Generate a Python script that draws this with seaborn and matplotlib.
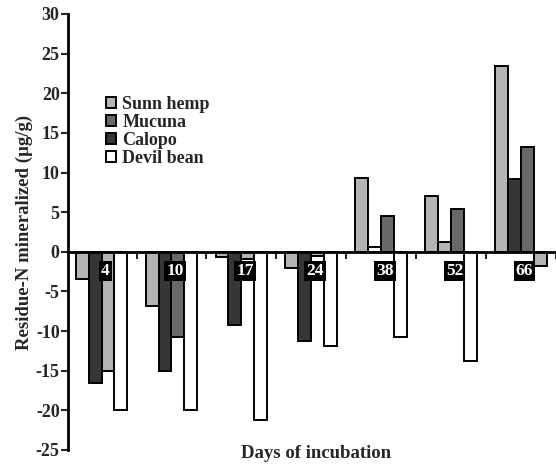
import matplotlib
matplotlib.use("Agg")
import matplotlib.pyplot as plt
import seaborn as sns
import pandas as pd

# data
days = ["4", "10", "17", "24", "38", "52", "66"]
sunn_hemp = [-3.4, -6.8, -0.7, -2.1, 9.3, 7.1, 23.4]
calopo = [-16.6, -15.0, -9.2, -11.2, 0.6, 1.2, 9.2]
mucuna = [-15.0, -10.7, -0.9, -0.5, 4.5, 5.4, 13.2]
devil_bean = [-20.0, -20.0, -21.2, -11.9, -10.7, -13.8, -1.85]

bar_order = ["Sunn hemp", "Calopo", "Mucuna", "Devil bean"]
legend_order = ["Sunn hemp", "Mucuna", "Calopo", "Devil bean"]

df = pd.DataFrame({
    "day": days * 4,
    "crop": [c for c in bar_order for _ in days],
    "value": sunn_hemp + calopo + mucuna + devil_bean,
})

sns.set_theme(style="white")
plt.rcParams["font.family"] = ["Liberation Serif", "DejaVu Serif"]
plt.rcParams["axes.unicode_minus"] = False

palette = {"Sunn hemp": "#b4b4b4", "Mucuna": "#686868",
           "Calopo": "#363636", "Devil bean": "#ffffff"}

fig = plt.figure(figsize=(5.56, 4.66), dpi=100)
ax = fig.add_axes([68 / 556, 1 - 450 / 466, (556 - 68) / 556, (450 - 14) / 466])

sns.barplot(data=df, x="day", y="value", hue="crop", order=days,
            hue_order=bar_order, palette=palette, width=0.74,
            edgecolor="black", linewidth=1.4, saturation=1, ax=ax)

# the original has a few bars shaded off-pattern
odd = {(0, 2): "#b4b4b4", (2, 2): "#b4b4b4", (3, 2): "#b4b4b4",
       (4, 1): "#ffffff", (5, 1): "#b4b4b4", (6, 3): "#b4b4b4"}
for (g, h), col in odd.items():
    ax.containers[h][g].set_facecolor(col)

ax.set_xlim(-0.48, 6.5)
ax.set_ylim(-25, 30)
ax.set_yticks(range(-25, 31, 5))
ax.tick_params(axis="y", direction="out", length=5, width=1.5, labelsize=13,
               left=True, pad=1)
for lab in ax.get_yticklabels():
    lab.set_fontweight("bold")

ax.spines["right"].set_visible(False)
ax.spines["top"].set_visible(False)
ax.spines["bottom"].set_position(("data", 0))
for s in ["left", "bottom"]:
    ax.spines[s].set_linewidth(2)
    ax.spines[s].set_color("black")

ax.set_xticks([x + 0.5 for x in range(7)], minor=True)
ax.tick_params(axis="x", which="minor", direction="out", length=5, width=1.5,
               bottom=True)
ax.set_xticks(range(len(days)))
ax.set_xticklabels([])
ax.tick_params(axis="x", which="major", length=0)

# day labels sit in black boxes just under the zero line, above the bars
for i, d in enumerate(days):
    ax.text(i + 0.05, -2.4, d, ha="center", va="center", color="white",
            fontsize=12.5, fontweight="bold", zorder=10,
            bbox=dict(facecolor="black", edgecolor="none", pad=1.5))

ax.set_xlabel("")
ax.set_ylabel("Residue-N mineralized (\u00b5g/g)", fontsize=13.5,
              fontweight="bold", labelpad=2)
fig.text(316 / 556, 1 - 453 / 466, "Days of incubation", ha="center",
         va="center", fontsize=13.5, fontweight="bold")

handles, labels = ax.get_legend_handles_labels()
hmap = dict(zip(labels, handles))
leg = ax.legend([hmap[l] for l in legend_order], legend_order,
                loc="upper left", bbox_to_anchor=(0.063, 0.828), frameon=False,
                prop={"size": 13, "weight": "bold"}, handlelength=0.55,
                handleheight=0.55, handletextpad=0.35, labelspacing=0.05,
                borderaxespad=0)

fig.savefig("out.png", dpi=100)
